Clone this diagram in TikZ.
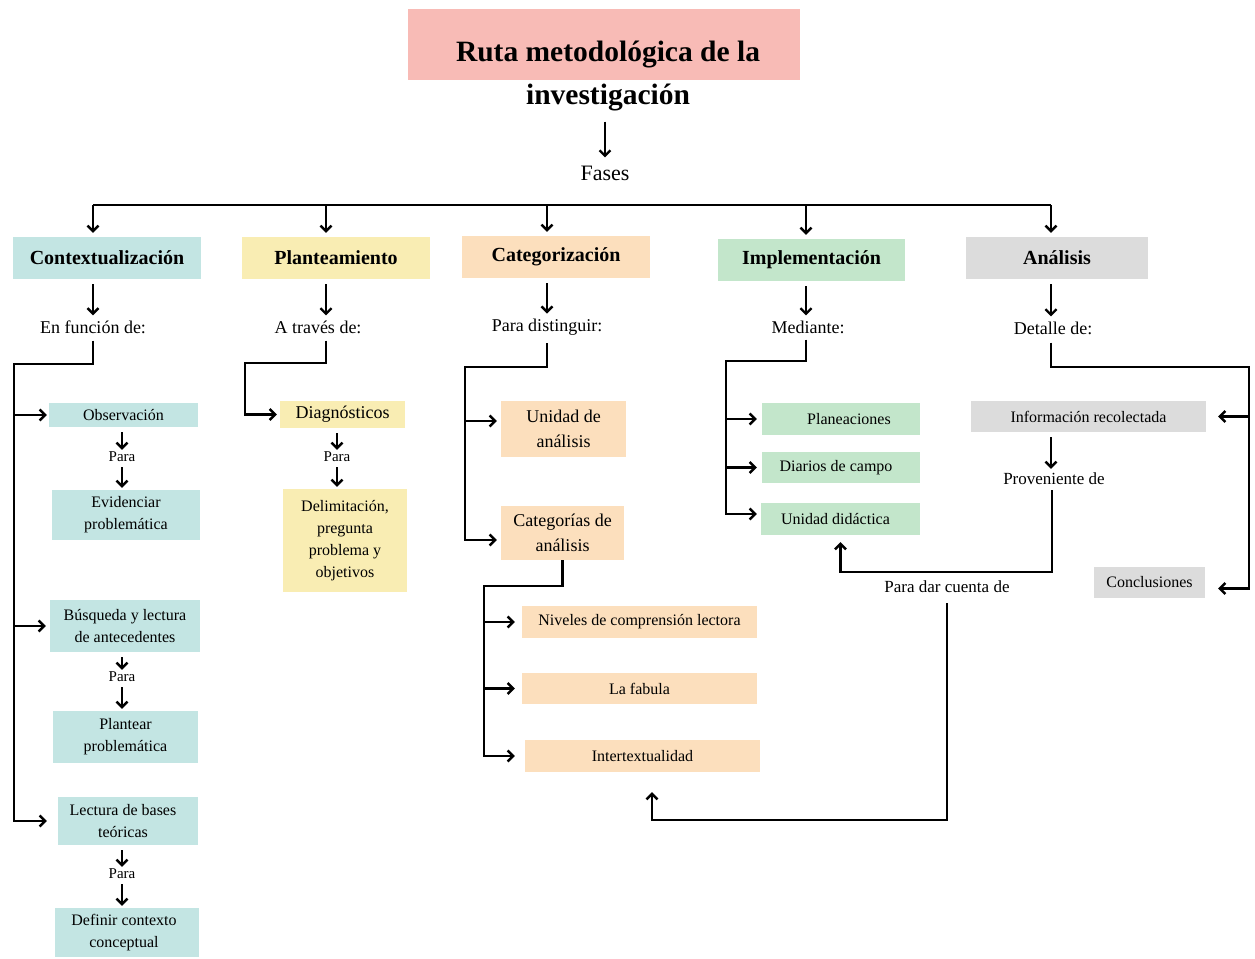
\documentclass[tikz,border=0pt]{standalone}
\usepackage{fontspec}
\setmainfont{Liberation Serif}
\usetikzlibrary{arrows.meta,calc}
\definecolor{cpink}{HTML}{F8BBB6}
\definecolor{cteal}{HTML}{C3E5E3}
\definecolor{cyel}{HTML}{F9EDB3}
\definecolor{cpeach}{HTML}{FCDFBD}
\definecolor{cgreen}{HTML}{C3E6CB}
\definecolor{cgray}{HTML}{DCDCDC}
\begin{document}
\begin{tikzpicture}[x=1pt,y=-1pt,
  line/.style={line width=2.4pt, draw=black},
  arr/.style={line, -{Straight Barb[length=5.5pt,width=11pt]}},
  pa/.style={arr, shorten <=5pt, shorten >=2pt},
  phase/.style={rectangle, inner sep=0pt, font=\fontsize{20}{24}\selectfont\bfseries},
  sm/.style={rectangle, inner sep=0pt, align=center, font=\fontsize{16}{22}\selectfont},
  md/.style={rectangle, inner sep=0pt, align=center, font=\fontsize{18}{25}\selectfont},
  lab/.style={inner sep=0pt, font=\fontsize{18}{22}\selectfont},
  parat/.style={inner sep=0pt, font=\fontsize{15}{18}\selectfont}]
\useasboundingbox (0,0) rectangle (1255,958);
\fill[white] (0,0) rectangle (1255,958);

% title
\node[rectangle, fill=cpink, minimum width=392pt, minimum height=71pt, inner sep=0pt] (tbox) at (604,44.5) {};
\node[anchor=base, inner sep=0pt, font=\fontsize{29.5}{34}\selectfont\bfseries] (t1) at (608,62) {Ruta metodológica de la};
\node[anchor=base, inner sep=0pt, font=\fontsize{29.5}{34}\selectfont\bfseries] (title) at (608,104) {investigación};
\node[inner sep=0pt, font=\fontsize{22}{26}\selectfont] (fases) at (605,173) {Fases};
\draw[arr, shorten <=11pt, shorten >=8pt] (fases |- title.south) -- (fases.north);

% column x positions
\coordinate (xC) at (93,0);
\coordinate (xP) at (326,0);
\coordinate (xK) at (547,0);
\coordinate (xI) at (806,0);
\coordinate (xA) at (1051,0);
\coordinate (bar) at (0,205);

% phases
\node[phase, fill=cteal, minimum width=188pt, minimum height=42pt] (ctx) at (107,258) {Contextualización};
\node[phase, fill=cyel, minimum width=188pt, minimum height=42pt] (pla) at (336,258) {Planteamiento};
\node[phase, fill=cpeach, minimum width=188pt, minimum height=42pt] (cat) at (556,257) {Categorización};
\node[phase, fill=cgreen, minimum width=187pt, minimum height=42pt] (imp) at (811.5,260) {Implementación};
\node[phase, fill=cgray, minimum width=182pt, minimum height=42pt] (ana) at (1057,258) {Análisis};

% labels
\node[lab] (lC) at (93,327) {En función de:};
\node[lab] (lP) at (318,327) {A través de:};
\node[lab] (lK) at (547,327) {Para distinguir:};
\node[lab] (lI) at (808,327) {Mediante:};
\node[lab] (lA) at (1053,328) {Detalle de:};

\draw[line] (xC |- bar) -- (xA |- bar);
\foreach \c/\n in {xC/ctx, xP/pla, xK/cat, xI/imp, xA/ana}
  \draw[arr, shorten >=4pt] (\c |- bar) -- (\c |- \n.north);
\foreach \c/\n/\l in {xC/ctx/lC, xP/pla/lP, xK/cat/lK, xI/imp/lI, xA/ana/lA}
  \draw[arr, shorten <=5pt, shorten >=5pt] (\c |- \n.south) -- (\c |- \l.north);

% Contextualizacion column
\node[sm, fill=cteal, minimum width=149pt, minimum height=24pt] (obs) at (123.5,415) {Observación};
\node[parat] (p1) at (122,457) {Para};
\node[sm, fill=cteal, minimum width=148pt, minimum height=50pt] (evi) at (126,515) {Evidenciar\\problemática};
\node[sm, fill=cteal, minimum width=150pt, minimum height=52pt] (bus) at (125,626) {Búsqueda y lectura\\de antecedentes};
\node[parat] (p2) at (122,677) {Para};
\node[sm, fill=cteal, minimum width=145pt, minimum height=52pt] (plt) at (125.5,737) {Plantear\\problemática};
\node[sm, fill=cteal, minimum width=140pt, minimum height=48pt] (lec) at (128,821) {Lectura de bases\hspace*{10pt}\\teóricas\hspace*{10pt}};
\node[parat] (p3) at (122,874) {Para};
\node[sm, fill=cteal, minimum width=144pt, minimum height=49pt] (def) at (127,932.5) {Definir contexto\hspace*{6pt}\\conceptual\hspace*{6pt}};

\coordinate (cC) at (14,364);
\draw[arr, shorten <=7pt, shorten >=11pt] (xC |- lC.south) |- (cC) |- (lec.west);
\draw[arr, shorten >=2pt] (cC |- obs.west) -- (obs.west);
\draw[arr, shorten >=4pt] (cC |- bus.west) -- (bus.west);
\draw[pa] (p1 |- obs.south) -- (p1.north);
\draw[pa] (p1.south) -- (p1 |- evi.north);
\draw[pa] (p2 |- bus.south) -- (p2.north);
\draw[pa] (p2.south) -- (p2 |- plt.north);
\draw[pa] (p3 |- lec.south) -- (p3.north);
\draw[pa] (p3.south) -- (p3 |- def.north);

% Planteamiento column
\node[md, fill=cyel, minimum width=125pt, minimum height=27pt] (diag) at (342.5,414.5) {Diagnósticos};
\node[parat] (p4) at (337,457) {Para};
\node[sm, fill=cyel, minimum width=124pt, minimum height=103pt] (del) at (345,540.5) {Delimitación,\\pregunta\\problema y\\objetivos};
\coordinate (cP) at (245,363);
\draw[arr, shorten <=7pt, shorten >=3pt] (xP |- lP.south) |- (cP) |- (diag.west);
\draw[pa] (p4 |- diag.south) -- (p4.north);
\draw[pa] (p4.south) -- (p4 |- del.north);

% Categorizacion column
\node[md, fill=cpeach, minimum width=125pt, minimum height=56pt] (uni) at (563.5,429) {Unidad de\\análisis};
\node[md, fill=cpeach, minimum width=123pt, minimum height=54pt] (can) at (562.5,533) {Categorías de\\análisis};
\node[sm, fill=cpeach, minimum width=235pt, minimum height=32pt] (niv) at (639.5,622) {Niveles de comprensión lectora};
\node[sm, fill=cpeach, minimum width=235pt, minimum height=31pt] (fab) at (639.5,688.5) {La fabula};
\node[sm, fill=cpeach, minimum width=235pt, minimum height=32pt] (inter) at (642.5,756) {Intertextualidad};
\coordinate (cK) at (465,367);
\coordinate (uA) at ([yshift=8pt]uni.west);
\coordinate (cA1) at ([yshift=-7pt]can.west);
\draw[arr, shorten <=8pt, shorten >=4pt] (xK |- lK.south) |- (cK) |- (cA1);
\draw[arr, shorten >=4pt] (cK |- uA) -- (uA);
\coordinate (cK2) at (484,586);
\draw[arr, shorten >=10pt] (can.south) |- (cK2) |- (inter.west);
\draw[arr, shorten >=7pt] (cK2 |- niv.west) -- (niv.west);
\draw[arr, shorten >=7pt] (cK2 |- fab.west) -- (fab.west);

% Implementacion column
\node[sm, fill=cgreen, minimum width=158pt, minimum height=32pt] (plan) at (841,419) {\hspace*{16pt}Planeaciones};
\node[sm, fill=cgreen, minimum width=158pt, minimum height=31pt] (diar) at (841,467.5) {Diarios de campo\hspace*{10pt}};
\node[sm, fill=cgreen, minimum width=159pt, minimum height=32pt] (unid) at (840.5,519) {Unidad didáctica\hspace*{10pt}};
\coordinate (cI) at (726,361);
\coordinate (uD) at ([yshift=5pt]unid.west);
\draw[arr, shorten <=6pt, shorten >=4pt] (xI |- lI.south) |- (cI) |- (uD);
\draw[arr, shorten >=5pt] (cI |- plan.west) -- (plan.west);
\draw[arr, shorten >=5pt] (cI |- diar.west) -- (diar.west);

% Analisis column
\node[sm, fill=cgray, minimum width=235pt, minimum height=31pt] (info) at (1088.5,416.5) {Información recolectada};
\node[lab, font=\fontsize{17}{20}\selectfont] (prov) at (1054,479) {Proveniente de};
\node[sm, fill=cgray, minimum width=111pt, minimum height=31pt] (conc) at (1149.5,582.5) {Conclusiones};
\node[lab, font=\fontsize{17}{20}\selectfont] (dar) at (947,587) {Para dar cuenta de};
\coordinate (cA) at (1249,367);
\coordinate (cE) at ([yshift=-6pt]conc.east);
\draw[arr, shorten <=8pt, shorten >=13pt] (xA |- lA.south) |- (cA) |- (cE);
\draw[arr, shorten >=12pt] (cA |- info.east) -- (info.east);
\draw[arr, shorten <=5pt, shorten >=4pt] (xA |- info.south) -- (xA |- prov.north);
\coordinate (cR) at (1052,572);
\draw[arr, shorten <=5pt, shorten >=7pt] (cR |- prov.south) -- (cR) -| (unid.south);
\coordinate (cD) at (652,820);
\draw[arr, shorten <=10pt, shorten >=20pt] (dar.south) |- (cD) -- (cD |- inter.south);
\end{tikzpicture}
\end{document}
